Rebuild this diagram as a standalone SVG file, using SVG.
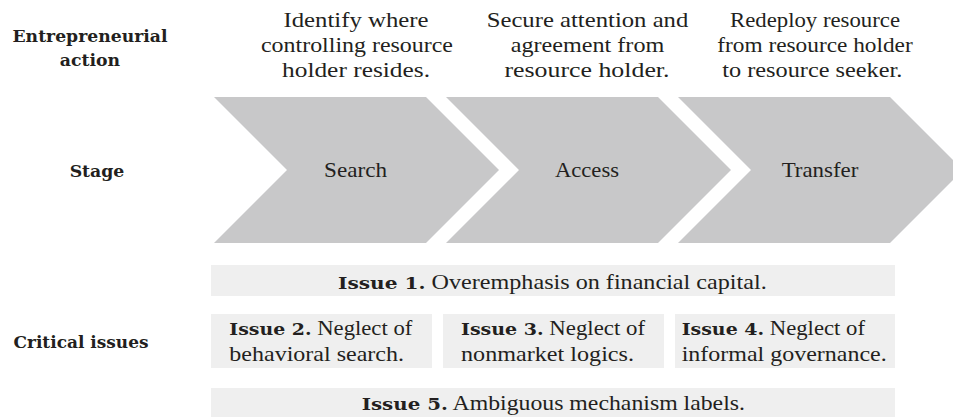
<svg xmlns="http://www.w3.org/2000/svg" width="953" height="417" viewBox="0 0 953 417">
<style>
.lbl{font-weight:bold;font-size:17.3px;fill:#231f20;text-anchor:middle}
.txt{font-size:21px;fill:#231f20}
.mid{text-anchor:middle}
.b{font-weight:bold;font-size:17.5px}
.chev{fill:#c8c8c9}
.box{fill:#efefef}
</style>
<rect width="953" height="417" fill="#ffffff"/>
<g id="row-labels" font-family="DejaVu Serif, serif">
<text class="lbl" x="90" y="42" textLength="155" lengthAdjust="spacingAndGlyphs">Entrepreneurial</text>
<text class="lbl" x="90" y="66">action</text>
<text class="lbl" x="97" y="177">Stage</text>
<text class="lbl" x="81" y="348" textLength="135" lengthAdjust="spacingAndGlyphs">Critical issues</text>
</g>
<g id="action-search" font-family="Liberation Serif, serif">
<text class="txt mid" x="356" y="27" textLength="145" lengthAdjust="spacingAndGlyphs">Identify where</text>
<text class="txt mid" x="357" y="52" textLength="192" lengthAdjust="spacingAndGlyphs">controlling resource</text>
<text class="txt mid" x="356" y="77" textLength="148" lengthAdjust="spacingAndGlyphs">holder resides.</text>
</g>
<g id="action-access" font-family="Liberation Serif, serif">
<text class="txt mid" x="587.5" y="27" textLength="201.6" lengthAdjust="spacingAndGlyphs">Secure attention and</text>
<text class="txt mid" x="587.5" y="52" textLength="153.6" lengthAdjust="spacingAndGlyphs">agreement from</text>
<text class="txt mid" x="587" y="77" textLength="165" lengthAdjust="spacingAndGlyphs">resource holder.</text>
</g>
<g id="action-transfer" font-family="Liberation Serif, serif">
<text class="txt mid" x="815" y="27" textLength="170" lengthAdjust="spacingAndGlyphs">Redeploy resource</text>
<text class="txt mid" x="815" y="52" textLength="195.3" lengthAdjust="spacingAndGlyphs">from resource holder</text>
<text class="txt mid" x="812.3" y="77" textLength="180" lengthAdjust="spacingAndGlyphs">to resource seeker.</text>
</g>
<g id="stage-search" font-family="Liberation Serif, serif">
<polygon class="chev" points="214,97 426,97 499,170 426,243 214,243 287,170"/>
<text class="txt mid" x="355.5" y="177" textLength="63" lengthAdjust="spacingAndGlyphs">Search</text>
</g>
<g id="stage-access" font-family="Liberation Serif, serif">
<polygon class="chev" points="446,97 658,97 731,170 658,243 446,243 519,170"/>
<text class="txt mid" x="587" y="177" textLength="64" lengthAdjust="spacingAndGlyphs">Access</text>
</g>
<g id="stage-transfer" font-family="Liberation Serif, serif">
<polygon class="chev" points="678,97 890,97 963,170 890,243 678,243 751,170"/>
<text class="txt mid" x="820" y="177" textLength="76.7" lengthAdjust="spacingAndGlyphs">Transfer</text>
</g>
<g id="issue-1" font-family="Liberation Serif, serif">
<rect class="box" x="211" y="265" width="684" height="31"/>
<text class="txt" x="338" y="289" textLength="428.7" lengthAdjust="spacingAndGlyphs"><tspan class="b" font-family="DejaVu Serif, serif">Issue 1.</tspan> Overemphasis  on financial  capital.</text>
</g>
<g id="issue-2" font-family="Liberation Serif, serif">
<rect class="box" x="211" y="314" width="221" height="54"/>
<text class="txt" x="229.3" y="335" textLength="183" lengthAdjust="spacingAndGlyphs"><tspan class="b" font-family="DejaVu Serif, serif">Issue 2.</tspan> Neglect of</text>
<text class="txt" x="229.3" y="361" textLength="174.7" lengthAdjust="spacingAndGlyphs">behavioral search.</text>
</g>
<g id="issue-3" font-family="Liberation Serif, serif">
<rect class="box" x="443" y="314" width="221" height="54"/>
<text class="txt" x="461" y="335" textLength="184" lengthAdjust="spacingAndGlyphs"><tspan class="b" font-family="DejaVu Serif, serif">Issue 3.</tspan> Neglect of</text>
<text class="txt" x="461" y="361" textLength="173" lengthAdjust="spacingAndGlyphs">nonmarket logics.</text>
</g>
<g id="issue-4" font-family="Liberation Serif, serif">
<rect class="box" x="675" y="314" width="220" height="54"/>
<text class="txt" x="681.7" y="335" textLength="183.3" lengthAdjust="spacingAndGlyphs"><tspan class="b" font-family="DejaVu Serif, serif">Issue 4.</tspan> Neglect of</text>
<text class="txt" x="681.7" y="361" textLength="205" lengthAdjust="spacingAndGlyphs">informal governance.</text>
</g>
<g id="issue-5" font-family="Liberation Serif, serif">
<rect class="box" x="211" y="388" width="684" height="29"/>
<text class="txt" x="361.7" y="410" textLength="383.3" lengthAdjust="spacingAndGlyphs"><tspan class="b" font-family="DejaVu Serif, serif">Issue 5.</tspan> Ambiguous mechanism labels.</text>
</g>
<g id="connectors"/>
</svg>
